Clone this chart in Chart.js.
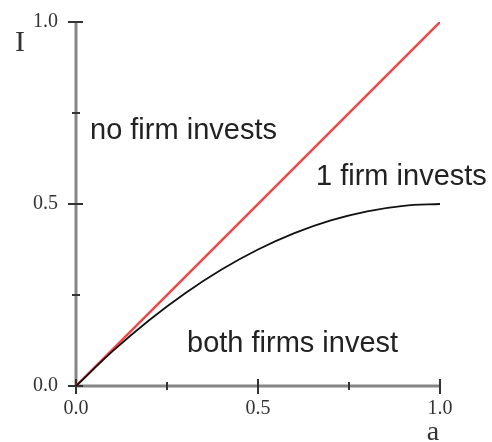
<!DOCTYPE html>
<html>
<head>
<meta charset="utf-8">
<script src="https://cdn.jsdelivr.net/npm/chart.js@4"></script>
<style>
  body { margin: 0; background: #fff; }
  canvas { display: block; }
</style>
</head>
<body>
<canvas id="chart" width="492" height="442"></canvas>
<script>
// values
const aValues = [0, 0.1, 0.2, 0.3, 0.4, 0.5, 0.6, 0.7, 0.8, 0.9, 1.0];
const boundaryLow = [0, 0.095, 0.18, 0.255, 0.32, 0.375, 0.42, 0.455, 0.48, 0.495, 0.5];
const diagX = [0, 1];
const diagY = [0, 1];
const majorTicks = [0, 0.5, 1];
const minorTicks = [0.25, 0.75];
const regionLabels = ['no firm invests', '1 firm invests', 'both firms invest'];

const toPoints = (xs, ys) => xs.map((x, i) => ({ x: x, y: ys[i] }));

const axesPlugin = {
    id: 'axes',
    beforeDatasetsDraw(chart) {
        const ctx = chart.ctx;
        const xs = chart.scales.x;
        const ys = chart.scales.y;
        const x0 = xs.getPixelForValue(0), x1 = xs.getPixelForValue(1);
        const y0 = ys.getPixelForValue(0), y1 = ys.getPixelForValue(1);
        ctx.save();
        ctx.strokeStyle = '#858585';
        ctx.lineWidth = 3;
        ctx.beginPath();
        ctx.moveTo(x0, y0); ctx.lineTo(x0, y1);
        ctx.moveTo(x0, y0); ctx.lineTo(x1, y0);
        ctx.stroke();

        ctx.strokeStyle = '#333';
        ctx.lineWidth = 2;
        ctx.beginPath();
        majorTicks.forEach(v => {
            const px = xs.getPixelForValue(v);
            ctx.moveTo(px, y0 - 7); ctx.lineTo(px, y0 + 8);
            const py = ys.getPixelForValue(v);
            ctx.moveTo(x0 - 8, py); ctx.lineTo(x0 + 7, py);
        });
        minorTicks.forEach(v => {
            const px = xs.getPixelForValue(v);
            ctx.moveTo(px, y0 - 4); ctx.lineTo(px, y0 + 4);
            const py = ys.getPixelForValue(v);
            ctx.moveTo(x0 - 4, py); ctx.lineTo(x0 + 4, py);
        });
        ctx.stroke();
        ctx.restore();
    },
    afterDraw(chart) {
        const ctx = chart.ctx;
        ctx.save();
        ctx.fillStyle = '#222';
        ctx.textAlign = 'left';
        ctx.textBaseline = 'alphabetic';
        ctx.font = '29px "Liberation Sans", Arial, sans-serif';
        ctx.fillText(regionLabels[0], 90, 139);
        ctx.fillText(regionLabels[1], 316, 185);
        ctx.fillText(regionLabels[2], 187, 352);

        ctx.fillStyle = '#333';
        ctx.textAlign = 'center';
        ctx.font = '30px "Liberation Serif", "Times New Roman", serif';
        ctx.fillText('I', 20, 51);
        ctx.font = '28px "Liberation Serif", "Times New Roman", serif';
        ctx.fillText('a', 433, 440);
        ctx.restore();
    }
};

new Chart(document.getElementById('chart').getContext('2d'), {
    type: 'scatter',
    data: {
        datasets: [{
            data: toPoints(aValues, boundaryLow),
            showLine: true,
            borderColor: '#111',
            borderWidth: 1.8,
            pointRadius: 0,
            cubicInterpolationMode: 'monotone',
            order: 0
        }, {
            data: toPoints(diagX, diagY),
            showLine: true,
            borderColor: '#f04848',
            borderWidth: 2.5,
            pointRadius: 0,
            order: 1
        }]
    },
    plugins: [axesPlugin],
    options: {
        responsive: false,
        animation: false,
        layout: { padding: { top: 22, right: 52, left: 0, bottom: 0 } },
        plugins: {
            legend: { display: false },
            tooltip: { enabled: false }
        },
        scales: {
            x: {
                type: 'linear',
                min: 0,
                max: 1,
                grid: { display: false, drawTicks: false },
                border: { display: false },
                ticks: {
                    stepSize: 0.5,
                    padding: 11,
                    color: '#333',
                    font: { family: '"Liberation Serif", "Times New Roman", serif', size: 20 },
                    callback: v => v.toFixed(1)
                },
                afterFit: scale => {
                    scale.height = 56;
                    scale.paddingLeft = 0;
                    scale.paddingRight = 0;
                }
            },
            y: {
                type: 'linear',
                min: 0,
                max: 1,
                grid: { display: false, drawTicks: false },
                border: { display: false },
                ticks: {
                    stepSize: 0.5,
                    padding: 18,
                    color: '#333',
                    font: { family: '"Liberation Serif", "Times New Roman", serif', size: 20 },
                    callback: v => v.toFixed(1)
                },
                afterFit: scale => {
                    scale.width = 76;
                    scale.paddingTop = 0;
                    scale.paddingBottom = 0;
                }
            }
        }
    }
});
</script>
</body>
</html>
